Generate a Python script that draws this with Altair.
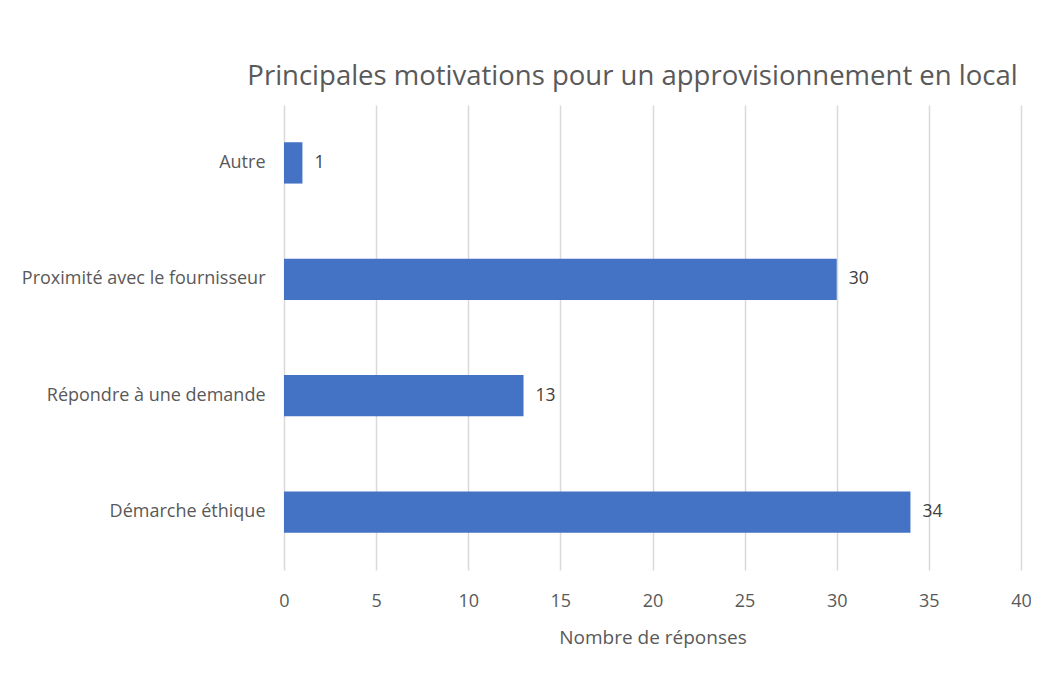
import altair as alt
import pandas as pd

categories = ["Autre", "Proximité avec le fournisseur", "Répondre à une demande", "Démarche éthique"]
values = [1, 30, 13, 34]
x_ticks = [0, 5, 10, 15, 20, 25, 30, 35, 40]

df = pd.DataFrame({"cat": categories, "val": values})

FONT = "Open Sans"
GREY = "#595959"

base = alt.Chart(df)

bars = base.mark_bar(color="#4472C4").encode(
    x=alt.X("val:Q", scale=alt.Scale(domain=[0, 40], nice=False),
            axis=alt.Axis(values=x_ticks, title="Nombre de réponses", grid=True,
                          gridColor="#d9d9d9", gridWidth=1.5, domain=False, ticks=False,
                          labelFlush=False, labelOverlap=False,
                          labelPadding=22, titlePadding=18, labelFontSize=18, titleFontSize=19,
                          labelColor=GREY, titleColor=GREY, labelFont=FONT, titleFont=FONT,
                          titleFontWeight="normal")),
    y=alt.Y("cat:N", sort=categories,
            scale=alt.Scale(paddingInner=0.645, paddingOuter=0.32),
            axis=alt.Axis(title=None, domain=False, ticks=False, labelPadding=19,
                          labelFontSize=18, labelColor=GREY, labelFont=FONT, labelLimit=400)),
)

text = base.mark_text(align="left", baseline="middle", dx=12, fontSize=17.5,
                      color="#404040", font=FONT).encode(
    x="val:Q",
    y=alt.Y("cat:N", sort=categories),
    text="val:Q",
)

chart = (bars + text).properties(
    width=737,
    height=465,
    title=alt.TitleParams("Principales motivations pour un approvisionnement en local",
                          fontSize=27.5, font=FONT, color=GREY, fontWeight="normal",
                          anchor="middle", dx=-20, offset=15),
    padding={"left": 276, "top": 97, "right": 10, "bottom": 100},
    autosize=alt.AutoSizeParams(type="none"),
    background="white",
).configure_view(stroke=None)

chart.save("out.html", embed_options={"renderer": "svg", "actions": False})
